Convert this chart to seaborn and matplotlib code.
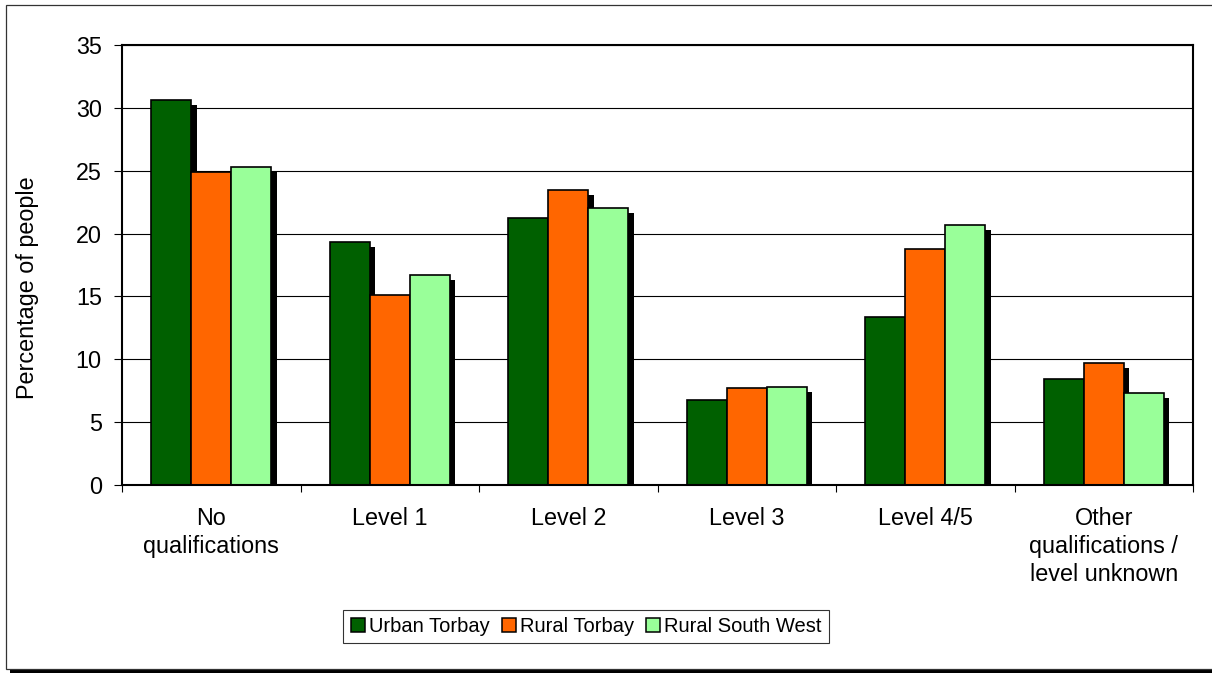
import pandas as pd
import seaborn as sns
import matplotlib.pyplot as plt
import matplotlib.patheffects as pe
from matplotlib.patches import Rectangle
from matplotlib.ticker import FixedLocator

# data
categories = ["No\nqualifications", "Level 1", "Level 2", "Level 3", "Level 4/5",
              "Other\nqualifications /\nlevel unknown"]
urban_torbay = [30.6, 19.3, 21.2, 6.8, 13.4, 8.4]
rural_torbay = [24.9, 15.1, 23.5, 7.7, 18.8, 9.7]
rural_south_west = [25.3, 16.7, 22.0, 7.8, 20.7, 7.3]
series_names = ["Urban Torbay", "Rural Torbay", "Rural South West"]
colours = ["#006000", "#FF6600", "#99FF99"]
y_ticks = [0, 5, 10, 15, 20, 25, 30, 35]

rows = []
for name, vals in zip(series_names, [urban_torbay, rural_torbay, rural_south_west]):
    for cat, v in zip(categories, vals):
        rows.append({"category": cat, "series": name, "value": v})
df = pd.DataFrame(rows)

sns.set_style("white")
plt.rcParams["font.family"] = ["Liberation Sans", "DejaVu Sans"]
plt.rcParams["text.color"] = "black"

fig = plt.figure(figsize=(12.12, 6.74), dpi=100)
fig.patch.set_facecolor("white")

# outer chart frame with Excel-like shadow, kept behind the axes
frame = Rectangle((6 / 1212, 5 / 674), 1220 / 1212, 664 / 674, transform=fig.transFigure,
                  facecolor="white", edgecolor="#333333", linewidth=0.9, zorder=-5)
frame.set_path_effects([pe.SimplePatchShadow(offset=(3, -3), shadow_rgbFace="black", alpha=1.0),
                        pe.Normal()])
fig.patches.append(frame)

ax = fig.add_axes([122 / 1212, 1 - 485 / 674, 1071 / 1212, 440 / 674])
ax.set_facecolor("white")

sns.barplot(data=df, x="category", y="value", hue="series", order=categories,
            hue_order=series_names, palette=colours, width=0.672,
            edgecolor="black", linewidth=1.2, saturation=1, errorbar=None, ax=ax)

for bar in ax.patches:
    bar.set_path_effects([pe.SimplePatchShadow(offset=(4, -3.6), shadow_rgbFace="black", alpha=1.0),
                          pe.Normal()])

ax.set_ylim(0, 35)
ax.set_xlim(-0.5, 5.5)
ax.set_yticks(y_ticks)
ax.yaxis.grid(True, color="black", linewidth=0.8)
ax.set_axisbelow(True)

for s in ax.spines.values():
    s.set_visible(True)
    s.set_color("black")
    s.set_linewidth(1.5)

ax.tick_params(axis="y", which="major", left=True, length=6, width=0.8, pad=8.5,
               labelsize=16.8, colors="black")
ax.tick_params(axis="x", which="major", bottom=True, length=0, pad=16, labelsize=16.8,
               colors="black")
ax.xaxis.set_minor_locator(FixedLocator([i - 0.5 for i in range(len(categories) + 1)]))
ax.tick_params(axis="x", which="minor", bottom=True, length=5, width=0.8, color="black")
for lbl in ax.get_xticklabels():
    lbl.set_linespacing(1.27)

ax.set_xlabel("")
ax.set_ylabel("Percentage of people", fontsize=16.8, va="center", color="black")
ax.yaxis.set_label_coords(-0.088, 0.449)

ax.get_legend().remove()
handles = [Rectangle((0, 0), 1, 1, facecolor=c, edgecolor="black", linewidth=1.1) for c in colours]
leg = fig.legend(handles, series_names, loc="center", bbox_to_anchor=(0.4835, 0.071),
                 ncol=3, fontsize=14.5, frameon=True, fancybox=False, shadow=False,
                 handlelength=0.7, handleheight=0.7, handletextpad=0.2, columnspacing=0.6,
                 borderpad=0.35, labelcolor="black")
leg.get_frame().set_edgecolor("black")
leg.get_frame().set_linewidth(0.8)

fig.savefig("out.png", dpi=100, facecolor="white")
